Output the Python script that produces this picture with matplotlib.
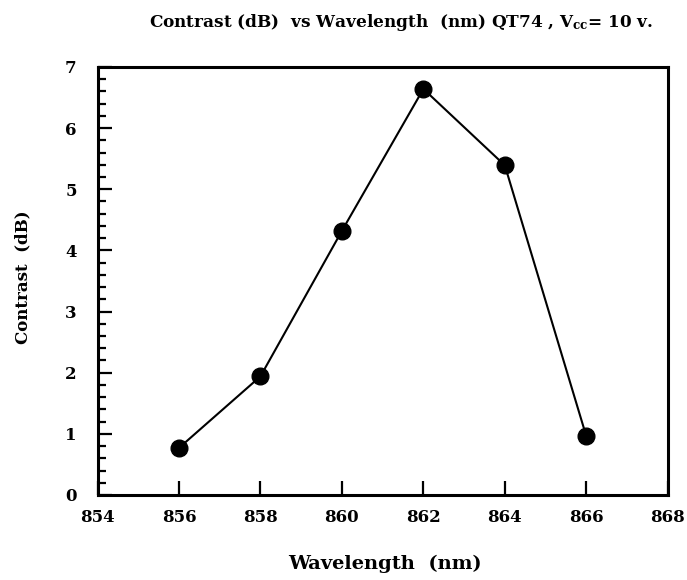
import matplotlib
matplotlib.use("Agg")
import matplotlib.pyplot as plt
from matplotlib.ticker import MultipleLocator

plt.rcParams['font.family'] = ['DejaVu Serif']
plt.rcParams['mathtext.fontset'] = 'custom'
plt.rcParams['mathtext.rm'] = 'DejaVu Serif:bold'
plt.rcParams['mathtext.it'] = 'DejaVu Serif:bold'

wavelength = [856, 858, 860, 862, 864, 866]
contrast = [0.77, 1.94, 4.32, 6.64, 5.39, 0.96]

x_ticks = [854, 856, 858, 860, 862, 864, 866, 868]
y_ticks = [0, 1, 2, 3, 4, 5, 6, 7]

fig = plt.figure(figsize=(6.87, 5.8), dpi=100)
ax = fig.add_axes([0.142, 0.1466, 0.83, 0.738])

ax.plot(wavelength, contrast, color='black', linewidth=1.5,
        marker='o', markersize=12, markerfacecolor='black')

ax.set_xlim(854, 868)
ax.set_ylim(0, 7)
ax.set_xticks(x_ticks)
ax.set_yticks(y_ticks)
ax.yaxis.set_minor_locator(MultipleLocator(0.2))

for s in ax.spines.values():
    s.set_linewidth(2.2)

ax.tick_params(axis='x', which='major', direction='in', length=10, width=1.6,
               pad=10, labelsize=12, top=False)
ax.tick_params(axis='y', which='major', direction='in', length=10, width=1.6,
               pad=15, labelsize=12, right=False)
ax.tick_params(axis='y', which='minor', direction='in', length=5.5, width=1.6,
               right=False)
for lab in ax.get_xticklabels() + ax.get_yticklabels():
    lab.set_fontweight('bold')

fig.text(0.584, 0.962, r'Contrast (dB)  vs Wavelength  (nm) QT74 , V$_{\mathrm{cc}}$= 10 v.',
         ha='center', va='center', fontsize=12.2, fontweight='bold')
fig.text(0.560, 0.0276, 'Wavelength  (nm)', ha='center', va='center',
         fontsize=14, fontweight='bold')
fig.text(0.033, 0.5224, 'Contrast  (dB)', ha='center', va='center',
         rotation=90, fontsize=12, fontweight='bold')

fig.savefig('out.png', dpi=100)
